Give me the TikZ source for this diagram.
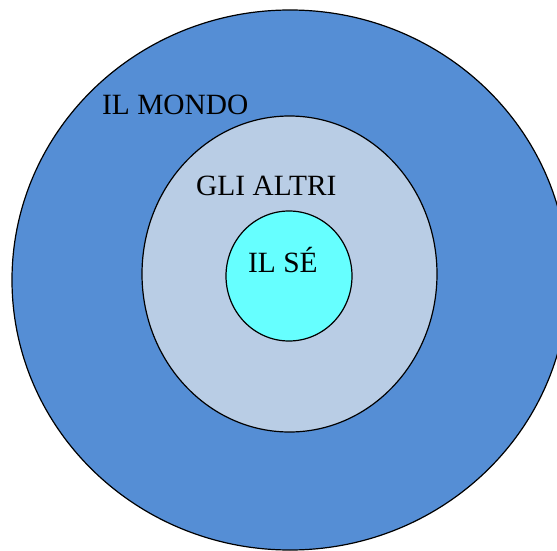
\documentclass[tikz,border=0pt]{standalone}
\usepackage{fontspec}
\setmainfont{Liberation Serif}
\usetikzlibrary{shapes.geometric}
\definecolor{mondoblue}{HTML}{558ED5}
\definecolor{altrigrey}{HTML}{B9CDE5}
\definecolor{secyan}{HTML}{66FFFF}
\begin{document}
\begin{tikzpicture}[x=1pt,y=1pt,
        ring/.style={ellipse, draw=black, line width=1.2pt, inner sep=0pt},
        ringtext/.style={font=\fontsize{29.4}{33}\selectfont, inner sep=0pt, anchor=base west}]
    \useasboundingbox (0,0) rectangle (557,550);
    \clip (0,0) rectangle (557,550);
    \node[ring, fill=mondoblue, minimum width=556pt, minimum height=540pt] (mondo) at (290,270) {};
    \node[ring, fill=altrigrey, minimum width=295pt, minimum height=316pt] (altri) at (289.5,276) {};
    \node[ring, fill=secyan, minimum width=126pt, minimum height=130pt] (se) at (289,274) {};
    \node[ringtext] (mondotext) at (102,435) {IL MONDO};
    \node[ringtext] (altritext) at (196,355) {GLI ALTRI};
    \node[ringtext] (setext) at (248,278) {IL SÉ};
\end{tikzpicture}
\end{document}
